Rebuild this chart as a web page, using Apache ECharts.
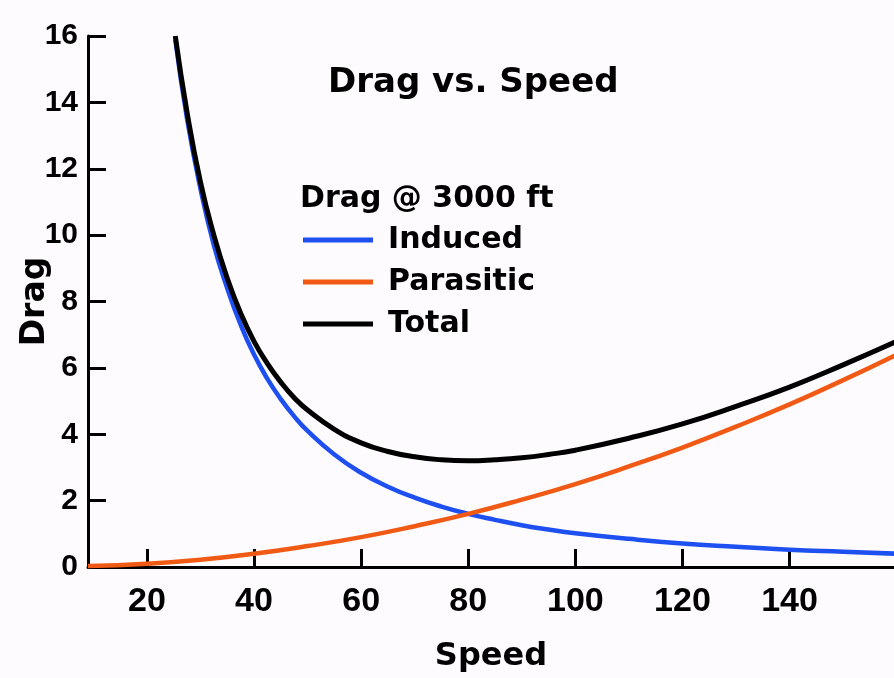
<!DOCTYPE html>
<html><head><meta charset="utf-8">
<script src="https://cdn.jsdelivr.net/npm/echarts@6/dist/echarts.min.js"></script>
<style>html,body{margin:0;padding:0;background:#fdfbfd;}#c{width:894px;height:678px;}</style>
</head><body><div id="c"></div>
<script>
// Speeds and drag values
const speedsIT = [25.3, 27.5, 30, 32.5, 35, 37.5, 40, 42.5, 45, 47.5, 50, 55, 60, 65, 70, 75, 80, 85, 90, 95, 100, 110, 120, 130, 140, 150, 160];
const induced = [15.9, 13.5, 11.4, 9.7, 8.4, 7.3, 6.4, 5.67, 5.06, 4.54, 4.1, 3.39, 2.84, 2.42, 2.09, 1.82, 1.6, 1.42, 1.26, 1.13, 1.02, 0.85, 0.71, 0.61, 0.52, 0.46, 0.40];
const total = [16.0, 13.7, 11.6, 10.0, 8.7, 7.65, 6.8, 6.13, 5.57, 5.1, 4.73, 4.15, 3.74, 3.48, 3.32, 3.23, 3.2, 3.23, 3.29, 3.39, 3.52, 3.88, 4.31, 4.84, 5.42, 6.09, 6.8];
const speedsP = [9, 20, 30, 40, 50, 60, 70, 80, 90, 100, 110, 120, 130, 140, 150, 160];
const parasitic = [0.03, 0.1, 0.22, 0.4, 0.63, 0.9, 1.23, 1.6, 2.03, 2.5, 3.03, 3.6, 4.23, 4.9, 5.63, 6.4];
const xTicks = [20, 40, 60, 80, 100, 120, 140];
const yTicks = [0, 2, 4, 6, 8, 10, 12, 14, 16];

const pairs = (xs, ys) => xs.map((x, i) => [x, ys[i]]);
const FONT = 'DejaVu Sans';
const chart = echarts.init(document.getElementById('c'));
chart.setOption({
  backgroundColor: '#fdfbfd',
  animation: false,
  title: [
    { text: 'Drag vs. Speed', left: 328, top: 66, padding: 0, textStyle: { fontFamily: FONT, fontWeight: 'bold', fontSize: 34, color: '#000' } },
    { text: 'Drag @ 3000 ft', left: 300, top: 184, padding: 0, textStyle: { fontFamily: FONT, fontWeight: 'bold', fontSize: 30, color: '#000' } }
  ],
  legend: {
    orient: 'vertical', left: 303, top: 225, padding: 0,
    itemWidth: 70, itemHeight: 5, itemGap: 12, icon: 'rect',
    data: ['Induced', 'Parasitic', 'Total'],
    textStyle: { fontFamily: FONT, fontWeight: 'bold', fontSize: 30, color: '#000', lineHeight: 30, padding: [0, 0, 0, 10] }
  },
  grid: { left: 88, right: 0, top: 36, bottom: 111, containLabel: false, outerBoundsMode: 'none' },
  xAxis: {
    type: 'value', min: 9, max: 159.5,
    name: 'Speed', nameLocation: 'middle', nameGap: 74, nameMoveOverlap: false,
    nameTextStyle: { fontFamily: FONT, fontWeight: 'bold', fontSize: 32, color: '#000' },
    axisLine: { lineStyle: { color: '#000', width: 3 } },
    axisTick: { inside: true, length: 18, lineStyle: { color: '#000', width: 3 }, customValues: xTicks },
    axisLabel: { margin: 18, fontFamily: 'Liberation Sans', fontWeight: 'bold', fontSize: 34, color: '#000', customValues: xTicks },
    splitLine: { show: false }
  },
  yAxis: {
    type: 'value', min: 0, max: 16, interval: 2,
    name: 'Drag', nameLocation: 'middle', nameGap: 36, nameMoveOverlap: false,
    nameTextStyle: { fontFamily: FONT, fontWeight: 'bold', fontSize: 33, color: '#000' },
    axisLine: { show: true, lineStyle: { color: '#000', width: 3 } },
    axisTick: { show: true, inside: true, length: 18, lineStyle: { color: '#000', width: 3 }, customValues: yTicks },
    axisLabel: { margin: 10, fontFamily: 'Liberation Sans', fontWeight: 'bold', fontSize: 30, color: '#000', customValues: yTicks },
    splitLine: { show: false }
  },
  series: [
    { name: 'Induced', type: 'line', smooth: true, showSymbol: false, data: pairs(speedsIT, induced), lineStyle: { color: '#1e4ff0', width: 4.5 }, itemStyle: { color: '#1e4ff0' } },
    { name: 'Parasitic', type: 'line', smooth: true, showSymbol: false, data: pairs(speedsP, parasitic), lineStyle: { color: '#f05a14', width: 4.5 }, itemStyle: { color: '#f05a14' } },
    { name: 'Total', type: 'line', smooth: true, showSymbol: false, data: pairs(speedsIT, total), lineStyle: { color: '#000', width: 5 }, itemStyle: { color: '#000' } }
  ]
});
</script></body></html>
